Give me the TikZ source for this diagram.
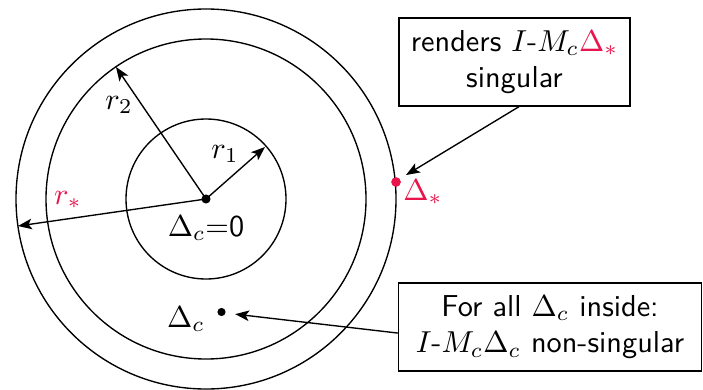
\documentclass[tikz,border=0pt]{standalone}
\usetikzlibrary{arrows.meta}
\definecolor{redstar}{RGB}{232,20,75}
\begin{document}
\begin{tikzpicture}[x=0.33pt,y=-0.33pt, line width=0.45pt,
  font=\sffamily,
  >={Stealth[length=4.6pt,width=3.5pt,inset=1.1pt]},
  lbl/.style={inner sep=0pt},
  infobox/.style={draw, align=center, inner sep=0pt},
  dotb/.style={fill, circle, inner sep=0pt, minimum size=3pt}]
\useasboundingbox (0,0) rectangle (703,389);
\coordinate (O) at (206,199);
\draw (O) circle[radius=80];
\draw (O) circle[radius=160];
\draw (O) circle[radius=190];
\node[dotb] (c) at (O) {};
\coordinate (r1end) at (265,147);
\coordinate (r2end) at (116,67);
\coordinate (rsend) at (18,226);
\draw[->] (c.center) -- (r1end);
\draw[->] (c.center) -- (r2end);
\draw[->] (c.center) -- (rsend);
\node[lbl] (l1) at (225,154) {$r_1$};
\node[lbl] (l2) at (119,105) {$r_2$};
\node[lbl, text=redstar] (ls) at (68,200) {$r_*$};
\node[lbl] (z) at (206,228) {$\Delta_c$=0};
\node[dotb, fill=redstar, minimum size=3.2pt] (ds) at (396,182) {};
\node[lbl, text=redstar] (dsl) at (423,192) {$\Delta_*$};
\node[dotb, minimum size=2.7pt] (dc) at (221.5,312) {};
\node[lbl] (dcl) at (186,319) {$\Delta_c$};
\node[infobox, minimum width=76.2pt, minimum height=29pt] (tb) at (514.5,62)
  {renders $I$-$M_c${\color{redstar}$\Delta_*$}\\singular};
\node[infobox, minimum width=100pt, minimum height=29pt] (bb) at (550,327)
  {For all $\Delta_c$ inside:\\$I$-$M_c\Delta_c$ non-singular};
\draw[->] ([xshift=1.5pt]tb.south) -- ([xshift=3.3pt,yshift=2.3pt]ds.center);
\draw[->] ([yshift=-2pt]bb.west) -- ([xshift=4.5pt,yshift=-0.7pt]dc.center);
\end{tikzpicture}
\end{document}
